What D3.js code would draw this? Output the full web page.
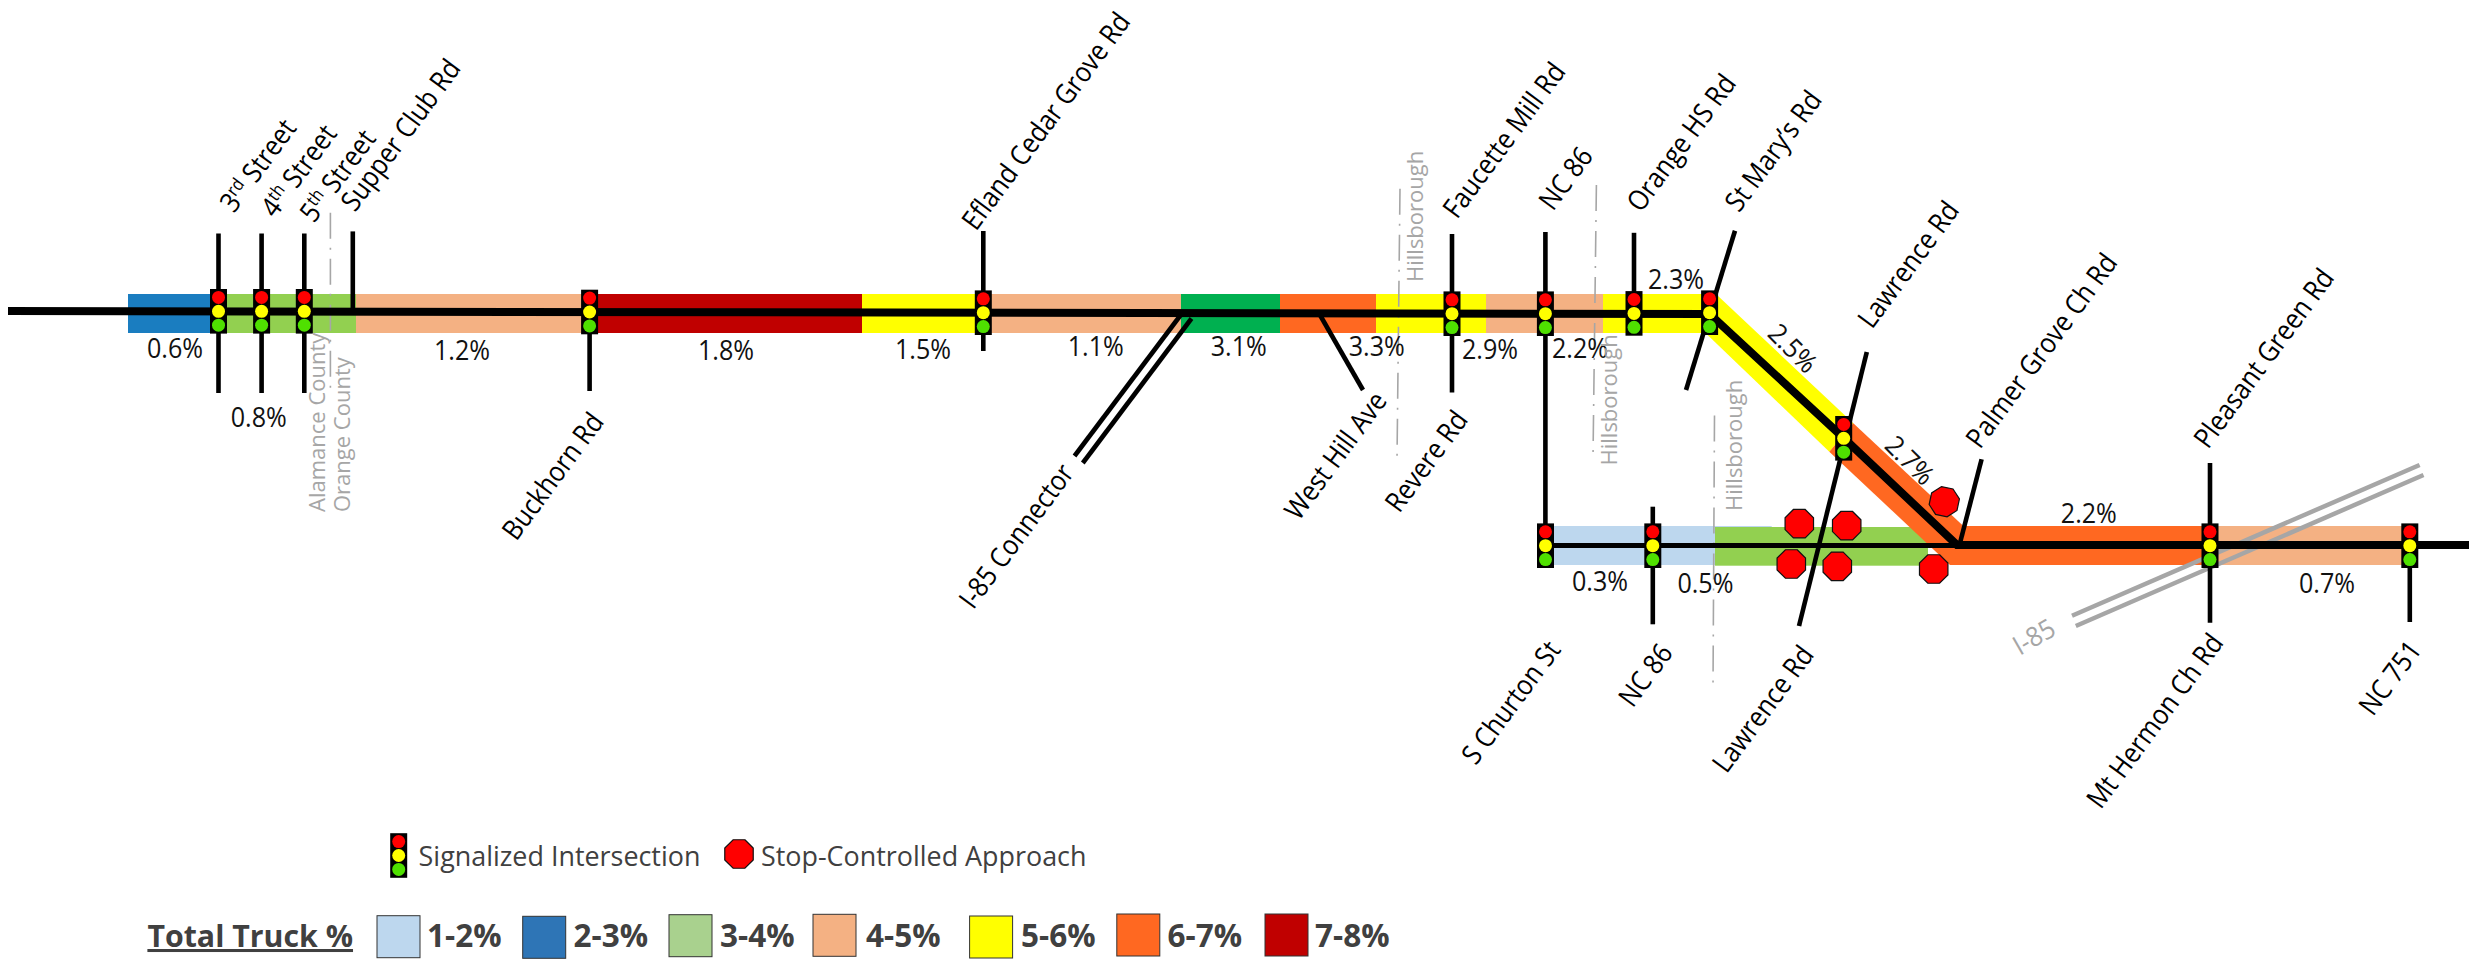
<!DOCTYPE html>
<html><head><meta charset="utf-8">
<script src="https://cdn.jsdelivr.net/npm/d3@7"></script>
<style>html,body{margin:0;padding:0;background:#fff}svg{display:block}text{font-family:"Open Sans",sans-serif}</style>
</head><body><svg id="c" width="2469" height="960"></svg>
<script>
// ---- data (map stations are schematic map units, 1 unit = 10 image px) ----
const bandClasses = ["1-2%","2-3%","3-4%","4-5%","5-6%","6-7%","7-8%"];
const topBandStops = [12.8,21.85,35.6,58.96,86.2,98.33,118.1,128.0,137.6,148.6,160.3,170.96];
const topBandNames = ["2-3%","3-4%","4-5%","7-8%","5-6%","4-5%","3.1","6-7%","5-6%","4-5%","5-6%"];
const lowBandStops = [154.6,177.17];
const lowBandNames = ["1-2%"];
const lowBandStops2 = [171.5,192.8];
const lowBandNames2 = ["3-4%"];
const lowBandStops3 = [195,221,240.98];
const lowBandNames3 = ["6-7%","4-5%"];
const diagYellow = [[171.7,29.5],[185.33,42.33],[182.93,45.17],[170.55,33.3]];
const diagOrange = [[185.33,42.33],[196.23,52.5],[196,56.5],[195,56.5],[182.93,45.17]];
const mainRoute = [[0.8,31.1],[170.96,31.4],[184.37,43.8],[195.7,54.5],[246.9,54.5]];
const lowRoute = [[154.6,54.55],[195.7,54.55]];
const signalNames = ["3rd Street","4th Street","5th Street","Buckhorn Rd","Efland Cedar Grove Rd","Faucette Mill Rd","NC 86","Orange HS Rd","St Mary's Rd","Lawrence Rd","S Churton St","NC 86","Mt Hermon Ch Rd","NC 751"];
const signalX = [21.85,26.16,30.43,58.96,98.33,145.2,154.54,163.4,170.96,184.37,154.55,165.28,221,240.98];
const signalY = [31.13,31.13,31.13,31.2,31.27,31.37,31.37,31.34,31.27,43.83,54.57,54.57,54.57,54.57];
const crossFrom = [[21.85,23.35],[26.16,23.35],[30.43,23.35],[35.28,23.14],[58.96,31.2],[98.33,23.1],[145.2,23.4],[154.54,23.2],[163.4,23.28],[173.5,23.07],[186.68,35.2],[198.16,45.93],[132,31.5],[118.07,31.5],[119.15,31.85],[165.28,50.67],[221,46.3],[240.98,54.5]];
const crossTo = [[21.85,39.3],[26.16,39.3],[30.43,39.3],[35.28,31.13],[58.96,39.1],[98.33,35.1],[145.2,39.25],[154.54,54.5],[163.4,31.34],[168.6,39],[179.9,62.6],[196,54.3],[136.3,39],[107.45,45.6],[108.28,46.3],[165.28,62.43],[221,62.27],[240.98,62.2]];
const i85From = [[207.2,61.57],[207.58,62.6]];
const i85To = [[241.96,46.5],[242.35,47.5]];
const countyFrom = [[33.04,21.28],[140,18.87],[159.64,18.5],[171.45,41.56]];
const countyTo = [[33.04,39.26],[139.7,46],[159.3,45.8],[171.3,68.8]];
const stopX = [179.93,184.67,179.13,183.73,193.37,194.43];
const stopY = [52.37,52.57,56.4,56.63,56.9,50.17];
const truckPct = [0.6,0.8,1.2,1.8,1.5,1.1,3.1,3.3,2.9,2.2,2.3,2.5,2.7,0.3,0.5,2.2,0.7];
const pctX = [17.5,25.87,46.2,72.6,92.3,109.57,123.87,137.67,149,158,167.6,178.6,190.3,160,170.54,208.88,232.7];
const pctY = [35.8,42.7,36,36,35.9,35.6,35.6,35.6,35.9,35.8,28.86,35.5,46.7,59.07,59.3,52.3,59.3];
const pctAngle = [0,0,0,0,0,0,0,0,0,0,0,45,45,0,0,0,0];
const upLabels = ["Supper Club Rd","Efland Cedar Grove Rd","Faucette Mill Rd","NC 86","Orange HS Rd","St Mary\u2019s Rd","Lawrence Rd","Palmer Grove Ch Rd","Pleasant Green Rd"];
const upX = [35.5,97.6,145.7,155.3,164.1,173.9,187.2,198,220.8];
const upY = [21.3,23.2,22,21.2,21.35,21.35,33,45,45];
const ordinalLabels = [["3","rd"," Street"],["4","th"," Street"],["5","th"," Street"]];
const ordinalX = [23.4,27.5,31.4];
const ordinalY = [21.4,21.9,22.4];
const downLabels = ["Buckhorn Rd","I-85 Connector","West Hill Ave","Revere Rd","S Churton St","NC 86","Lawrence Rd","Mt Hermon Ch Rd","NC 751"];
const downX = [60.5,107.5,138.8,146.9,156.18,167.4,181.5,222.46,242.28];
const downY = [42.2,47.3,40.1,42,65,65.3,65.5,64.3,65];
const townLabels = ["Alamance County","Orange County","Hillsborough","Hillsborough","Hillsborough"];
const townX = [32.5,35,142.3,161.7,174.2];
const townY = [51.2,51.2,28.2,46.55,51.1];
const legendSymbols = ["Signalized Intersection","Stop-Controlled Approach"];
const legendTitle = "Total Truck %";
const swatchX = [37.7,52.27,66.9,81.3,96.96,111.68,126.5];
const swatchY = [91.57,91.63,91.47,91.43,91.6,91.4,91.4];
const swatchTextX = [42.7,57.35,72,86.6,102.1,116.76,131.5];

// ---- styles ----
const bandColor = {"1-2%":"#BDD7EE","2-3%":"#1A7DC0","3-4%":"#92D050","4-5%":"#F4B183","5-6%":"#FFFF00","6-7%":"#FF6821","7-8%":"#C00000","3.1":"#00B050"};
const legendColor = {"1-2%":"#BDD7EE","2-3%":"#2E75B6","3-4%":"#A9D18E","4-5%":"#F4B183","5-6%":"#FFFF00","6-7%":"#FF6821","7-8%":"#C00000"};
const x = d3.scaleLinear().domain([0,246.9]).range([0,2469]);
const y = d3.scaleLinear().domain([0,96]).range([0,960]);
const svg = d3.select("#c");
const line = d3.line().x(d=>x(d[0])).y(d=>y(d[1]));
const closed = d3.line().x(d=>x(d[0])).y(d=>y(d[1])).curve(d3.curveLinearClosed);

// ---- bands ----
function bands(stops,names,top,bottom){
  svg.append("g").selectAll("rect").data(names).join("rect")
    .attr("x",(d,i)=>x(stops[i])).attr("width",(d,i)=>x(stops[i+1])-x(stops[i]))
    .attr("y",y(top)).attr("height",y(bottom)-y(top)).attr("fill",d=>bandColor[d]);
}
bands(topBandStops,topBandNames,29.4,33.3);
bands(lowBandStops,lowBandNames,52.6,56.5);
bands(lowBandStops2,lowBandNames2,52.7,56.57);
svg.append("path").attr("d",closed(diagYellow)).attr("fill",bandColor["5-6%"]);
svg.append("path").attr("d",closed(diagOrange)).attr("fill",bandColor["6-7%"]);
bands(lowBandStops3,lowBandNames3,52.6,56.5);

// ---- county / town lines ----
svg.append("g").selectAll("line").data(countyFrom).join("line")
  .attr("x1",d=>x(d[0])).attr("y1",d=>y(d[1]))
  .attr("x2",(d,i)=>x(countyTo[i][0])).attr("y2",(d,i)=>y(countyTo[i][1]))
  .attr("stroke","#A6A6A6").attr("stroke-width",1.6).attr("stroke-dasharray","26 9 2 9");

// ---- I-85 ----
svg.append("g").selectAll("line").data(i85From).join("line")
  .attr("x1",d=>x(d[0])).attr("y1",d=>y(d[1]))
  .attr("x2",(d,i)=>x(i85To[i][0])).attr("y2",(d,i)=>y(i85To[i][1]))
  .attr("stroke","#A6A6A6").attr("stroke-width",4.5);

// ---- cross streets & routes ----
svg.append("g").selectAll("line").data(crossFrom).join("line")
  .attr("x1",d=>x(d[0])).attr("y1",d=>y(d[1]))
  .attr("x2",(d,i)=>x(crossTo[i][0])).attr("y2",(d,i)=>y(crossTo[i][1]))
  .attr("stroke","#000").attr("stroke-width",4.6);
svg.append("path").attr("d",line(lowRoute)).attr("fill","none").attr("stroke","#000").attr("stroke-width",5);
svg.append("path").attr("d",line(mainRoute)).attr("fill","none").attr("stroke","#000").attr("stroke-width",8).attr("stroke-linejoin","miter");

// ---- stop signs ----
const octagon = d3.lineRadial().angle(d=>d).radius(15.4).curve(d3.curveLinearClosed);
const octAngles = d3.range(8).map(i=>(i+0.5)*Math.PI/4);
function stop(cx,cy,rot,sel){
  sel.append("path").attr("d",octagon(octAngles))
    .attr("transform",`translate(${cx},${cy}) rotate(${rot})`)
    .attr("fill","#FF0000").attr("stroke","#111").attr("stroke-width",1.2);
}
stopX.forEach((d,i)=>stop(x(d),y(stopY[i]),i===5?12:0,svg));

// ---- signals ----
function signal(cx,cy,sel){
  const g = sel.append("g").attr("transform",`translate(${cx},${cy})`);
  g.append("rect").attr("x",-8.5).attr("y",-22.3).attr("width",17).attr("height",44.6).attr("fill","#000");
  g.selectAll("circle").data(["#FF0000","#FFFF00","#4FE000"]).join("circle")
    .attr("cy",(d,i)=>(i-1)*13.9).attr("r",6.5).attr("fill",d=>d);
}
signalX.forEach((d,i)=>signal(x(d),y(signalY[i]),svg));

// ---- labels ----
const roadSize = 28, pctSize = 27, roadAngle = -53.5, roadSqueeze = 0.89, pctSqueeze = 0.93;
function place(t,px,py,angle,anchor,sx=1){
  return svg.append("text").attr("transform",`translate(${x(px)},${y(py)}) rotate(${angle}) scale(${sx},1)`).attr("text-anchor",anchor);
}
upLabels.forEach((d,i)=>place(d,upX[i],upY[i],roadAngle,"start",roadSqueeze).attr("font-size",roadSize).attr("fill","#000").text(d));
downLabels.forEach((d,i)=>place(d,downX[i],downY[i],roadAngle,"end",roadSqueeze).attr("font-size",roadSize).attr("fill","#000").text(d));
ordinalLabels.forEach((d,i)=>{
  const t = place(d,ordinalX[i],ordinalY[i],roadAngle,"start",roadSqueeze).attr("font-size",roadSize).attr("fill","#000");
  t.append("tspan").text(d[0]);
  t.append("tspan").attr("dy",-9).attr("font-size",18).text(d[1]);
  t.append("tspan").attr("dy",9).text(d[2]);
});
truckPct.forEach((d,i)=>{
  place(d,pctX[i],pctY[i],pctAngle[i],"middle",pctSqueeze).attr("font-size",pctSize).attr("fill","#111").text(d.toFixed(1)+"%");
});
townLabels.forEach((d,i)=>place(d,townX[i],townY[i],-90,"start").attr("font-size",22).attr("fill","#A6A6A6").text(d));
place("I-85",205.76,63.4,-30,"end",pctSqueeze).attr("font-size",27).attr("fill","#A6A6A6").text("I-85");

// ---- legend ----
signal(x(39.87),y(85.55),svg);
stop(x(73.9),y(85.4),0,svg);
legendSymbols.forEach((d,i)=>place(d,[41.86,76.1][i],86.57,0,"start").attr("font-size",26.9).attr("fill","#404040").text(d));
place(legendTitle,14.74,94.7,0,"start").attr("font-size",30.3).attr("font-weight",700).attr("fill","#404040").attr("text-decoration","underline").text(legendTitle);
svg.append("g").selectAll("rect").data(bandClasses).join("rect")
  .attr("x",(d,i)=>x(swatchX[i])).attr("y",(d,i)=>y(swatchY[i]))
  .attr("width",x(4.3)).attr("height",y(4.2)).attr("fill",d=>legendColor[d]).attr("stroke","#333").attr("stroke-width",1);
bandClasses.forEach((d,i)=>place(d,swatchTextX[i],94.7,0,"start").attr("font-size",31.5).attr("font-weight",700).attr("fill","#404040").text(d));
</script></body></html>
